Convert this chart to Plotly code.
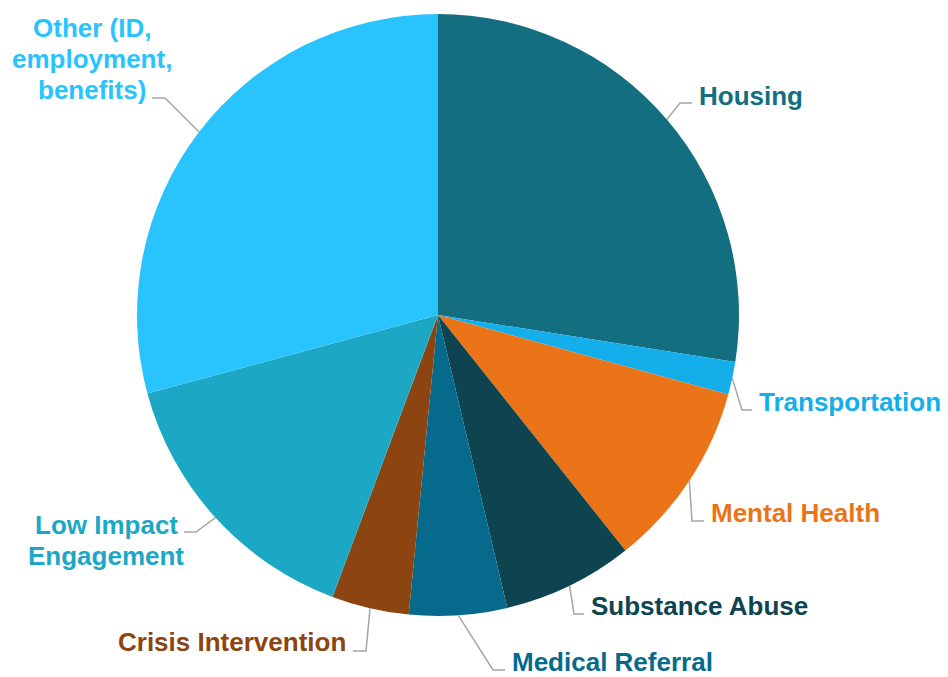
import math
import plotly.graph_objects as go

# ---- data ----
categories = ["Housing", "Transportation", "Mental Health", "Substance Abuse",
              "Medical Referral", "Crisis Intervention", "Low Impact Engagement",
              "Other (ID, employment, benefits)"]
label_lines = [["Housing"], ["Transportation"], ["Mental Health"], ["Substance Abuse"],
               ["Medical Referral"], ["Crisis Intervention"], ["Low Impact", "Engagement"],
               ["Other (ID,", "employment,", "benefits)"]]
values = [27.5, 1.75, 10.05, 7.0, 5.25, 4.15, 15.1, 29.2]
colors = ["#136F80", "#14AEEA", "#EC7418", "#0D4450",
          "#066A8D", "#8C4510", "#1CA8C5", "#29C4FE"]

# ---- layout geometry (pixels) ----
W, H = 948, 677
CX, CY, R = 438, 315, 301
LINE_GAP = 31

# label placement: elbow point, end of horizontal tick, text anchor x, xanchor, text centre y
label_layout = [
    ((680, 103), (692, 103), 697, "left", 96),
    ((742, 410), (752, 410), 757, "left", 402),
    ((692, 521), (704, 521), 709, "left", 513),
    ((574, 614), (584, 614), 589, "left", 606),
    ((493, 670), (505, 670), 510, "left", 662),
    ((366, 651), (353, 651), 348, "right", 642),
    ((196, 532), (184, 532), 106, "center", 540),
    ((165, 98), (152, 98), 92, "center", 59),
]


def px(x):
    return x / W


def py(y):
    return 1 - y / H


fig = go.Figure(go.Pie(
    labels=categories,
    values=values,
    sort=False,
    direction="clockwise",
    rotation=0,
    textinfo="none",
    marker=dict(colors=colors, line=dict(width=0)),
    domain=dict(x=[px(CX - R), px(CX + R)], y=[py(CY + R), py(CY - R)]),
    showlegend=False,
))

total = sum(values)
cum = 0.0
shapes = []
annotations = []
for i, v in enumerate(values):
    mid = (cum + v / 2) / total * 2 * math.pi
    cum += v
    sx = CX + R * math.sin(mid)
    sy = CY - R * math.cos(mid)
    (ex, ey), (tx, ty), lx, xa, ly = label_layout[i]
    shapes.append(dict(
        type="path", xref="paper", yref="paper",
        path=f"M {px(sx)},{py(sy)} L {px(ex)},{py(ey)} L {px(tx)},{py(ty)}",
        line=dict(color="#A6A6A6", width=1.5),
    ))
    lines = label_lines[i]
    n = len(lines)
    for k, line in enumerate(lines):
        yk = ly + (k - (n - 1) / 2) * LINE_GAP
        annotations.append(dict(
            x=px(lx), y=py(yk), xref="paper", yref="paper",
            text=line, showarrow=False,
            xanchor=xa, yanchor="middle", align="center",
            font=dict(family="Liberation Sans, Arial, sans-serif", size=26,
                      color=colors[i], weight="bold"),
        ))

fig.update_layout(
    width=W, height=H,
    margin=dict(l=0, r=0, t=0, b=0),
    paper_bgcolor="white", plot_bgcolor="white",
    shapes=shapes, annotations=annotations,
)

fig.write_html("out.html", config={"displayModeBar": False},
               post_script="document.body.style.margin='0';document.body.style.overflow='hidden';")
